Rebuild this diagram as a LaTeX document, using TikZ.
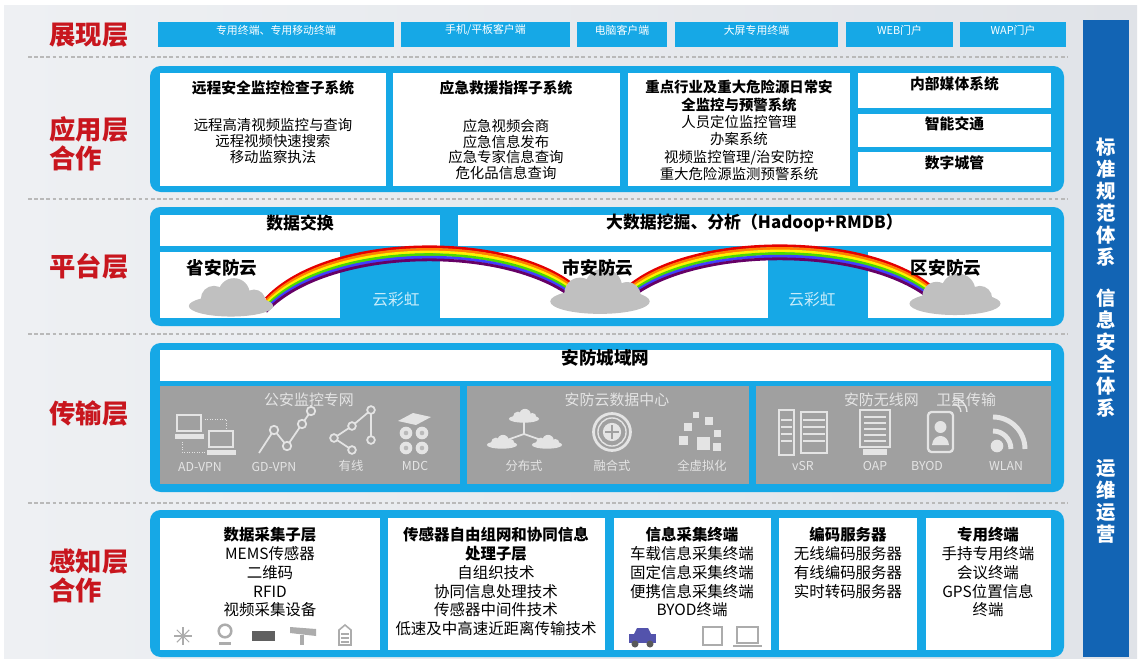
\documentclass[tikz,border=0pt]{standalone}
\usepackage{fontspec}
\setmainfont{Noto Sans CJK SC}
\usetikzlibrary{positioning,fit}

\definecolor{skyblue}{RGB}{22,168,230}
\definecolor{barblue}{RGB}{18,100,180}
\definecolor{labelred}{RGB}{200,22,30}
\definecolor{panelgray}{RGB}{160,160,160}
\definecolor{icongray}{RGB}{228,228,228}
\definecolor{cloudgray}{RGB}{192,192,192}
\definecolor{lightsky}{RGB}{200,236,250}
\definecolor{pageleft}{RGB}{238,240,243}
\definecolor{pageright}{RGB}{224,227,232}

\tikzset{
  pics/puffcloud/.style={code={
    \fill[#1] (0,8) ellipse[x radius=24pt, y radius=6pt];
    \fill[#1] (-17,1) circle[radius=7.5pt];
    \fill[#1] (3,-4) circle[radius=9pt];
    \fill[#1] (23,3) circle[radius=6.5pt];
  }}
}

\begin{document}
\begin{tikzpicture}[x=0.02cm, y=-0.02cm,
    layer/.style={text=labelred, font=\fontsize{15}{16.5}\selectfont\bfseries, align=left, anchor=west, inner sep=0},
    tab/.style={fill=skyblue, inner sep=0, text=white, font=\fontsize{6.2}{7}\selectfont},
    frame/.style={fill=skyblue, rounded corners=6pt, inner sep=0},
    wbox/.style={fill=white, inner sep=0},
    gbox/.style={fill=panelgray, inner sep=0},
    ttl/.style={font=\fontsize{8.4}{9.5}\selectfont\bfseries},
    apptxt/.style={align=center, inner sep=0, font=\fontsize{8.2}{9.1}\selectfont},
    sentxt/.style={align=center, inner sep=0, font=\fontsize{8.8}{10.7}\selectfont},
    big/.style={font=\fontsize{9.6}{11}\selectfont\bfseries},
    rbtxt/.style={text=lightsky, font=\fontsize{9}{10}\selectfont},
    phead/.style={text=icongray, font=\fontsize{8.5}{9}\selectfont},
    plabel/.style={text=icongray, font=\fontsize{7}{8}\selectfont},
    bartxt/.style={text=white, align=center, inner sep=0, font=\fontsize{11}{12.5}\selectfont\bfseries},
    sep/.style={gray!55, line width=0.8pt, dash pattern=on 2pt off 1.5pt},
    ico/.style={draw=icongray, line width=1pt},
    dark/.style={gray!65}
  ]
    \useasboundingbox (0,0) rectangle (1140,659);
    \fill[white] (0,0) rectangle (1140,659);
    \shade[left color=pageleft, right color=pageright] (4,5) rectangle (1137,659);

    \draw[sep] (28,57)  -- (1068,57);
    \draw[sep] (28,199) -- (1068,199);
    \draw[sep] (28,334) -- (1068,334);
    \draw[sep] (28,503) -- (1068,503);

    \node[layer] (show)  at (49,35)  {展现层};
    \node[layer] (app)   at (49,144) {应用层\\合作};
    \node[layer] (plat)  at (49,266) {平台层};
    \node[layer] (trans) at (49,414) {传输层};
    \node[layer] (sense) at (49,576) {感知层\\合作};

    \node[tab, fit={(158,22) (394,47)}] (tab1) {专用终端、专用移动终端};
    \node[tab, fit={(401,22) (570,47)}] (tab2) {手机/平板客户端};
    \node[tab, fit={(577,22) (667,47)}] (tab3) {电脑客户端};
    \node[tab, fit={(675,22) (838,47)}] (tab4) {大屏专用终端};
    \node[tab, fit={(846,22) (953,47)}] (tab5) {WEB门户};
    \node[tab, fit={(960,22) (1066,47)}] (tab6) {WAP门户};

    \node[fill=barblue, inner sep=0, fit={(1083,20) (1129,657)}] (bar) {};
    \node[bartxt] (std)  at (1106,202) {标\\准\\规\\范\\体\\系};
    \node[bartxt] (sec)  at (1106,353) {信\\息\\安\\全\\体\\系};
    \node[bartxt] (ops)  at (1106,501) {运\\维\\运\\营};

    \node[frame, fit={(150,66) (1064,192)}] (appframe) {};
    \node[wbox, fit={(160,73) (386,186)}] (remote) {};
    \node[wbox, fit={(393,73) (620,186)}] (rescue) {};
    \node[wbox, fit={(628,73) (850,186)}] (danger) {};
    \node[wbox, fit={(858,73) (1051,108)}, ttl] (media) {内部媒体系统};
    \node[wbox, fit={(858,114) (1051,147)}, ttl] (traffic) {智能交通};
    \node[wbox, fit={(858,152) (1051,186)}, ttl] (city) {数字城管};

    \node[ttl] (remotet) at (273,88) {远程安全监控检查子系统};
    \node[apptxt] (remoteb) at (273,141) {远程高清视频监控与查询\\远程视频快速搜索\\移动监察执法};
    \node[ttl] (rescuet) at (506,88) {应急救援指挥子系统};
    \node[apptxt] (rescueb) at (506,149.5) {应急视频会商\\应急信息发布\\应急专家信息查询\\危化品信息查询};
    \node[apptxt, font=\fontsize{8.2}{9.9}\selectfont] (dangert) at (739,130.5)
      {\textbf{重点行业及重大危险源日常安}\\\textbf{全监控与预警系统}\\人员定位监控管理\\办案系统\\视频监控管理/治安防控\\重大危险源监测预警系统};

    \node[frame, fit={(150,207) (1064,326)}] (platframe) {};
    \node[wbox, fit={(160,215) (440,246)}, big] (exch) {数据交换};
    \node[wbox, fit={(458,215) (1051,246)}, big] (mining) {大数据挖掘、分析（Hadoop+RMDB）};
    \node[wbox, fit={(160,252) (340,318)}] (prov) {};
    \node[wbox, fit={(440,252) (768,318)}] (muni) {};
    \node[wbox, fit={(868,252) (1051,318)}] (dist) {};
    \node[rbtxt] (rb1) at (396,300) {云彩虹};
    \node[rbtxt] (rb2) at (812,300) {云彩虹};

    % rainbow bands, outer red to inner violet
    \foreach \c [count=\i] in {red!90!black,orange,yellow,green!65!yellow!85!black,blue!75,violet!80!black} {
      \draw[\c, line width=1.6pt] (266,{296+2.6*\i}) .. controls (330,{228+2.6*\i}) and (520,{228+2.6*\i}) .. (582,{290+2.6*\i});
      \draw[\c, line width=1.6pt] (626,{286+2.6*\i}) .. controls (690,{228+2.6*\i}) and (880,{228+2.6*\i}) .. (940,{292+2.6*\i});
    }
    \pic (provcloud) at (231,298) {puffcloud=cloudgray};
    \pic[scale=1.18] (municloud) at (600,292) {puffcloud=cloudgray};
    \pic[scale=1.08] (distcloud) at (955,295) {puffcloud=cloudgray};
    \node[big, font=\fontsize{10}{11}\selectfont\bfseries] (provt) at (222,268) {省安防云};
    \node[big, font=\fontsize{10}{11}\selectfont\bfseries] (munit) at (598,268) {市安防云};
    \node[big, font=\fontsize{10}{11}\selectfont\bfseries] (distt) at (946,268) {区安防云};

    \node[frame, fit={(150,343) (1064,492)}] (transframe) {};
    \node[wbox, fit={(160,350) (1051,381)}, big, font=\fontsize{10}{11}\selectfont\bfseries] (man) {安防城域网};
    \node[gbox, fit={(160,386) (460,484)}] (police) {};
    \node[gbox, fit={(467,386) (749,484)}] (center) {};
    \node[gbox, fit={(756,386) (1051,484)}] (wireless) {};
    \node[phead] (policet) at (309,400) {公安监控专网};
    \node[phead] (centert) at (617,400) {安防云数据中心};
    \node[phead] (wirelesst) at (920,400) {安防无线网\hspace{10pt}卫星传输};

    \node[plabel] (adl)   at (200,467) {AD-VPN};
    \node[plabel] (gdl)   at (274,467) {GD-VPN};
    \node[plabel] (wirel) at (351,466) {有线};
    \node[plabel] (mdcl)  at (415,466) {MDC};
    \node[plabel] (distl) at (524,466) {分布式};
    \node[plabel] (fusl)  at (612,466) {融合式};
    \node[plabel] (virtl) at (702,466) {全虚拟化};
    \node[plabel] (vsrl)  at (803,466) {vSR};
    \node[plabel] (oapl)  at (875,466) {OAP};
    \node[plabel] (byodl) at (927,466) {BYOD};
    \node[plabel] (wlanl) at (1006,466) {WLAN};

    \draw[ico] (177,415) rectangle (201,431);
    \fill[icongray] (175,434) rectangle (204,439);
    \draw[ico] (209,431) rectangle (233,447);
    \fill[icongray] (207,450) rectangle (236,455);
    \draw[icongray, densely dotted] (205,419) -- (226,419) -- (226,428);
    \draw[icongray, densely dotted] (182,442) -- (182,452) -- (204,452);

    \draw[ico] (259,453) -- (274,430) -- (287,446) -- (302,424) -- (311,411);
    \foreach \p in {(274,430),(287,446),(302,424),(311,411)}
      \draw[ico, fill=panelgray] \p circle[radius=2.4pt];

    \draw[ico] (352,426) -- (334,438) -- (352,450);
    \draw[ico] (352,426) -- (371,410) -- (371,440);
    \foreach \p in {(334,438),(352,426),(352,450),(371,410),(371,440)}
      \draw[ico, fill=panelgray] \p circle[radius=2.2pt];

    \fill[icongray] (398,421) -- (413,413) -- (431,417) -- (416,425) -- cycle;
    \foreach \a/\b in {406/433,422/433,406/448,422/448} {
      \fill[icongray] (\a,\b) circle[radius=3.6pt];
      \fill[gray!55] (\a,\b) circle[radius=1.3pt];
    }

    \pic[scale=0.36] (ctop) at (524,416) {puffcloud=icongray};
    \pic[scale=0.36] (cleft) at (502,442) {puffcloud=icongray};
    \pic[scale=0.36] (cright) at (547,442) {puffcloud=icongray};
    \coordinate (chub) at (524,434);
    \coordinate (ctopfoot) at (524,420);
    \coordinate (cleftfoot) at (507,440);
    \coordinate (crightfoot) at (541,440);
    \draw[ico] (ctopfoot) -- (chub) -- (cleftfoot);
    \draw[ico] (chub) -- (crightfoot);

    \draw[icongray, line width=1.6pt] (612,432) circle[radius=10.5pt];
    \draw[icongray, line width=0.8pt] (612,432) circle[radius=8pt];
    \fill[icongray] (612,432) circle[radius=5.2pt];
    \draw[panelgray, line width=0.8pt] (605,432) -- (619,432) (612,425) -- (612,439);

    \foreach \a/\b/\s in {684/423/8,693/412/6,705/417/8,679/436/9,697/437/13,714/430/7,713/443/8}
      \fill[icongray] (\a,\b) rectangle ++(\s,\s);

    \draw[ico] (779,410) rectangle (794,455);
    \draw[ico] (801,412) rectangle (827,453);
    \foreach \yy in {420,427,434,441}
      \draw[icongray, line width=0.7pt] (803,\yy) -- (825,\yy) (781,\yy) -- (792,\yy);
    \draw[ico] (860,410) rectangle (890,447);
    \foreach \yy in {417,423,429,435,441}
      \draw[icongray, line width=0.8pt] (864,\yy) -- (886,\yy);
    \fill[icongray] (863,449) rectangle (887,455);
    \draw[ico, line width=1.3pt, rounded corners=2pt] (928,412) rectangle (953,452);
    \fill[icongray] (940.5,427) circle[radius=3.4pt];
    \fill[icongray] (932,445) .. controls (933,433) and (948,433) .. (949,445) -- cycle;
    \draw[icongray, line width=0.8pt] (953,404) arc[start angle=90, end angle=0, radius=4.5pt];
    \draw[icongray, line width=0.8pt] (953,398) arc[start angle=90, end angle=0, radius=7.9pt];
    \fill[icongray] (997,446) circle[radius=3.6pt];
    \draw[icongray, line width=2.8pt] (993,431) arc[start angle=90, end angle=0, radius=10.2pt];
    \draw[icongray, line width=2.8pt] (993,417) arc[start angle=90, end angle=0, radius=18.2pt];

    \node[frame, fit={(150,510) (1064,657)}] (senseframe) {};
    \node[wbox, fit={(160,518) (380,650)}] (collect) {};
    \node[wbox, fit={(388,518) (605,650)}] (sensor) {};
    \node[wbox, fit={(614,518) (771,650)}] (term) {};
    \node[wbox, fit={(779,518) (917,650)}] (enc) {};
    \node[wbox, fit={(926,518) (1051,650)}] (spec) {};

    \node[sentxt, anchor=north] (collectt) at (270,527) {\textbf{数据采集子层}\\MEMS传感器\\二维码\\RFID\\视频采集设备};
    \node[sentxt, anchor=north] (sensort) at (496,527) {\textbf{传感器自由组网和协同信息}\\\textbf{处理子层}\\自组织技术\\协同信息处理技术\\传感器中间件技术\\低速及中高速近距离传输技术};
    \node[sentxt, anchor=north] (termt) at (692,527) {\textbf{信息采集终端}\\车载信息采集终端\\固定信息采集终端\\便携信息采集终端\\BYOD终端};
    \node[sentxt, anchor=north] (enct) at (848,527) {\textbf{编码服务器}\\无线编码服务器\\有线编码服务器\\实时转码服务器};
    \node[sentxt, anchor=north] (spect) at (988,527) {\textbf{专用终端}\\手持专用终端\\会议终端\\GPS位置信息\\终端};

    \foreach \a in {0,45,90,135}
      \draw[dark, line width=0.6pt] (183,636) ++(\a:5pt) -- ++(\a+180:10pt);
    \draw[dark, line width=1.4pt] (225,631) circle[radius=3.6pt];
    \fill[dark] (219,642) rectangle (231,645);
    \fill[gray!75!black] (252,631) rectangle (275,641);
    \fill[dark] (290,627) -- (316,629) -- (316,636) -- (290,633) -- cycle;
    \fill[dark] (300,635) rectangle (304,645);
    \draw[dark, line width=0.9pt] (339,645) -- (339,630) -- (345,625) -- (351,630) -- (351,645) -- cycle;
    \draw[dark, line width=0.6pt] (341,634) -- (349,634) (341,638) -- (349,638) (341,642) -- (349,642);

    \fill[blue!35!gray] (629,643) rectangle (656,634);
    \fill[blue!35!gray] (634,634) -- (637,628) -- (648,628) -- (651,634) -- cycle;
    \fill[gray!70!black] (635,644) circle[radius=2pt] (650,644) circle[radius=2pt];
    \draw[dark, line width=0.9pt] (703,627) rectangle (722,645);
    \draw[dark, line width=0.9pt] (737,627) rectangle (758,643);
    \draw[dark, line width=1.2pt] (733,646) -- (762,646);
\end{tikzpicture}
\end{document}
